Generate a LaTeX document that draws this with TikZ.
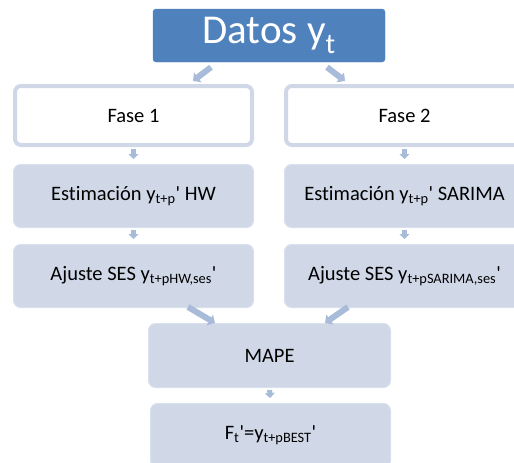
\documentclass[tikz,border=0pt]{standalone}
\usepackage{fontspec}
\setmainfont{Carlito}[Ligatures={NoCommon}]
\usetikzlibrary{arrows.meta,calc}
\definecolor{datosblue}{HTML}{4F81BD}
\definecolor{boxfill}{HTML}{D0D8E8}
\definecolor{boxedge}{HTML}{D9E0EE}
\definecolor{arrowc}{HTML}{A8BBD9}
\newcommand{\pr}{\textquotesingle}
\tikzset{
  topbox/.style={fill=datosblue, draw=datosblue, rounded corners=3pt, minimum width=232pt, minimum height=53pt, text=white, font=\fontsize{41}{44}\selectfont, inner sep=0pt},
  phasebox/.style={fill=white, draw=boxfill, line width=4pt, rounded corners=6pt, minimum width=237pt, minimum height=59pt, font=\fontsize{20.5}{24}\selectfont, inner sep=0pt},
  stepbox/.style={fill=boxfill, draw=boxedge, line width=1pt, rounded corners=7pt, minimum width=240pt, minimum height=63pt, font=\fontsize{20.5}{24}\selectfont, inner sep=0pt},
  smallarrow/.style={draw=arrowc, line width=5pt, -{Triangle[length=5pt,width=10pt]}, shorten <=2pt, shorten >=5pt},
  diagarrow/.style={draw=arrowc, line width=6pt, -{Triangle[length=6pt,width=12pt]}},
}
\begin{document}
\begin{tikzpicture}[x=1pt,y=-1pt]
\useasboundingbox (0,0) rectangle (514,463);
\clip (0,0) rectangle (514,463);
\node[topbox] (datos) at (269,35.5) {Datos y\textsubscript{t}};
\node[phasebox] (fase1) at (133.5,115.5) {Fase 1};
\node[phasebox] (fase2) at (404.5,115.5) {Fase 2};
\node[stepbox] (est1) at (133.5,196) {Estimación y\textsubscript{t+p}\pr{} HW};
\node[stepbox] (est2) at (404.5,196) {Estimación y\textsubscript{t+p}\pr{} SARIMA};
\node[stepbox] (aj1) at (133.5,276) {Ajuste SES y\textsubscript{t+pHW,ses}\pr};
\node[stepbox] (aj2) at (404.5,276) {Ajuste SES y\textsubscript{t+pSARIMA,ses}\pr};
\node[stepbox, minimum width=242pt, minimum height=64pt] (mape) at (269.5,355.5) {MAPE};
\node[stepbox, minimum width=240pt, minimum height=64pt] (best) at (270.5,435.5) {F\textsubscript{t}\pr=y\textsubscript{t+pBEST}\pr};
\draw[diagarrow] ($(datos.south)+(-58,5)$) -- ($(fase1.north)+(59.5,-3)$);
\draw[diagarrow] ($(datos.south)+(58,5)$) -- ($(fase2.north)+(-59.5,-3)$);
\draw[smallarrow] (fase1.south) -- (est1.north);
\draw[smallarrow] (fase2.south) -- (est2.north);
\draw[smallarrow] (est1.south) -- (aj1.north);
\draw[smallarrow] (est2.south) -- (aj2.north);
\draw[diagarrow] ($(aj1.south)+(54.5,-1)$) -- ($(mape.north)+(-54.5,0)$);
\draw[diagarrow] ($(aj2.south)+(-56.5,-1)$) -- ($(mape.north)+(55.5,0)$);
\draw[smallarrow] (mape.south) -- (best.north);
\end{tikzpicture}
\end{document}
